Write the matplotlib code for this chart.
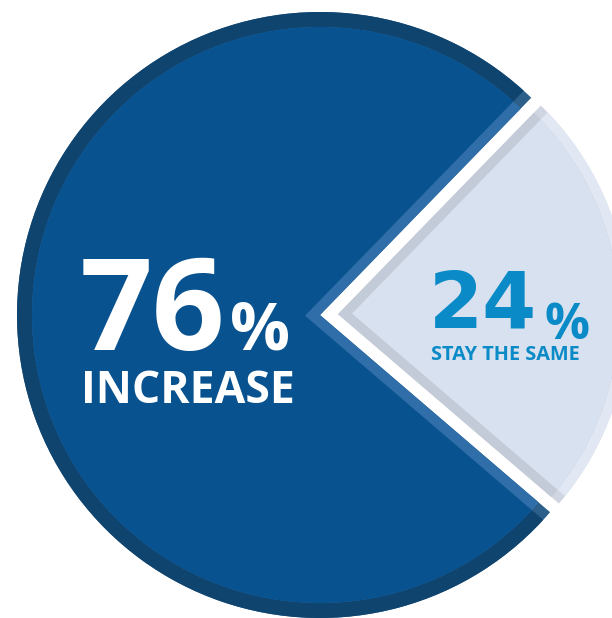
import matplotlib
matplotlib.use("Agg")
import matplotlib.pyplot as plt

# ---- data ----
categories = ["STAY THE SAME", "INCREASE"]
shares = [24, 76]

# ---- styling ----
W, H = 612, 618
FONT = ["Open Sans", "DejaVu Sans"]

big_fill = "#07528f"
big_rim = "#0f446f"
big_band = "#2f6ea8"
big_blend = "#2c5f8a"

small_fill = "#d7e1ef"
small_rim = "#e2e8f3"
small_band = "#c3cad8"
small_blend = "#d0d6e1"

small_text = "#0a8ac6"

fig = plt.figure(figsize=(W / 100, H / 100), dpi=100)
ax = fig.add_axes([0, 0, 1, 1])

center = (320, H - 315)
start = -40.6
gap_shift = 18        # explode of the small slice
band_shift_big = 15   # gives ~10 px light band along cut edges
band_shift_small = 14


def layer(colors, radius, explode, clip=None):
    wedges, _ = ax.pie(shares, colors=colors, radius=radius, explode=explode,
                       center=center, startangle=start, counterclock=True,
                       wedgeprops=dict(linewidth=0), frame=True)
    for i, w in enumerate(wedges):
        w.set_clip_on(True)
        if clip is not None:
            w.set_clip_path(clip[i])
    return wedges


# big slice (76%)
b1 = layer(["none", big_blend], 303, [0, 0])
layer(["none", big_rim], 340, [0, band_shift_big], clip=b1)
b3 = layer(["none", big_band], 288, [0, 0])
layer(["none", big_fill], 340, [0, band_shift_big], clip=b3)

# small slice (24%)
s1 = layer([small_blend, "none"], 291, [gap_shift, 0])
layer([small_rim, "none"], 330, [gap_shift + band_shift_small, 0], clip=s1)
s3 = layer([small_band, "none"], 281, [gap_shift, 0])
layer([small_fill, "none"], 330, [gap_shift + band_shift_small, 0], clip=s3)

ax.set_xlim(0, W)
ax.set_ylim(0, H)
ax.set_aspect("equal")
ax.set_axis_off()

# ---- labels ----
ax.text(80, H - 350, f"{shares[1]}", color="white", fontsize=92, fontweight="bold",
        family=FONT, ha="left", va="baseline")
ax.text(230, H - 350, "%", color="white", fontsize=48, fontweight="bold",
        family=FONT, ha="left", va="baseline")
ax.text(81, H - 403, categories[1], color="white", fontsize=32, fontweight="bold",
        family=FONT, ha="left", va="baseline")

ax.text(429, H - 328, f"{shares[0]}", color=small_text, fontsize=56, fontweight="bold",
        family=["DejaVu Sans"], ha="left", va="baseline")
ax.text(544, H - 339, "%", color=small_text, fontsize=36, fontweight="bold",
        family=FONT, ha="left", va="baseline")
ax.text(431, H - 360, categories[0], color=small_text, fontsize=14.3, fontweight="bold",
        family=FONT, ha="left", va="baseline")

fig.savefig("out.png", dpi=100)
